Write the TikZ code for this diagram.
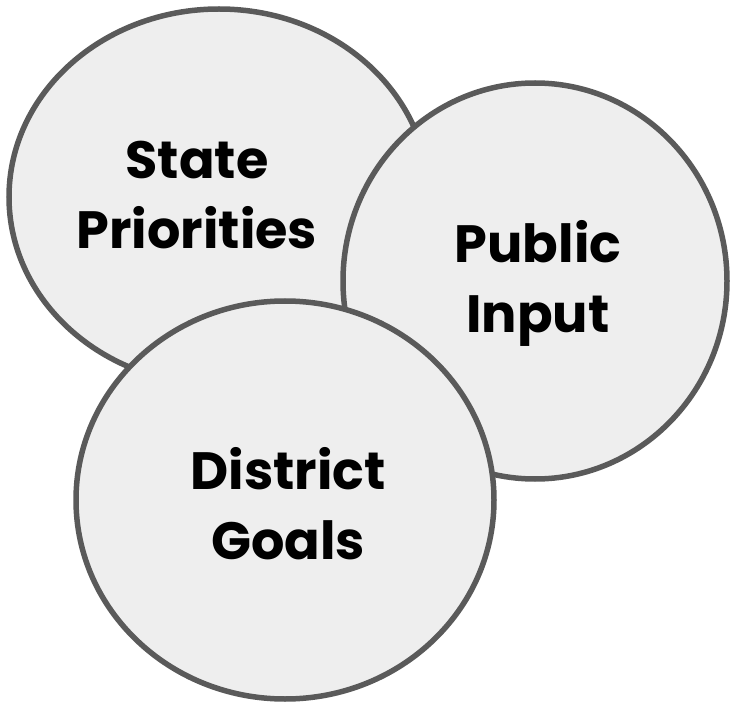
\documentclass[tikz,border=0pt]{standalone}
\usepackage{fontspec}
\setmainfont{Poppins}
\usetikzlibrary{shapes.geometric}

\definecolor{ringgray}{HTML}{5A5A5A}
\definecolor{ringfill}{HTML}{EEEEEE}

\tikzset{
  ring/.style={ellipse, draw=ringgray, fill=ringfill, line width=5.5pt, inner sep=0pt},
  ringtext/.style={align=center, font=\fontsize{52.5}{70}\selectfont\bfseries}
}

\begin{document}
\begin{tikzpicture}[%
      x=1pt, y=-1pt,
      ]
      \useasboundingbox (0,0) rectangle (731,703);

      % the three overlapping rings, back to front
      \node [ring, minimum width=420pt, minimum height=376pt] (state) at (219,197) {};
      \node [ring, minimum width=384pt, minimum height=396pt] (public) at (535,281) {};
      \node [ring, minimum width=418pt, minimum height=398pt] (district) at (285,500) {};

      \node [ringtext] (statetxt) at ([xshift=-22pt,yshift=2pt]state.center) {State\\Priorities};
      \node [ringtext] (publictxt) at ([xshift=3pt,yshift=-2pt]public.center) {Public\\Input};
      \node [ringtext] (districttxt) at ([xshift=3pt,yshift=-4pt]district.center) {District\\Goals};
\end{tikzpicture}
\end{document}
